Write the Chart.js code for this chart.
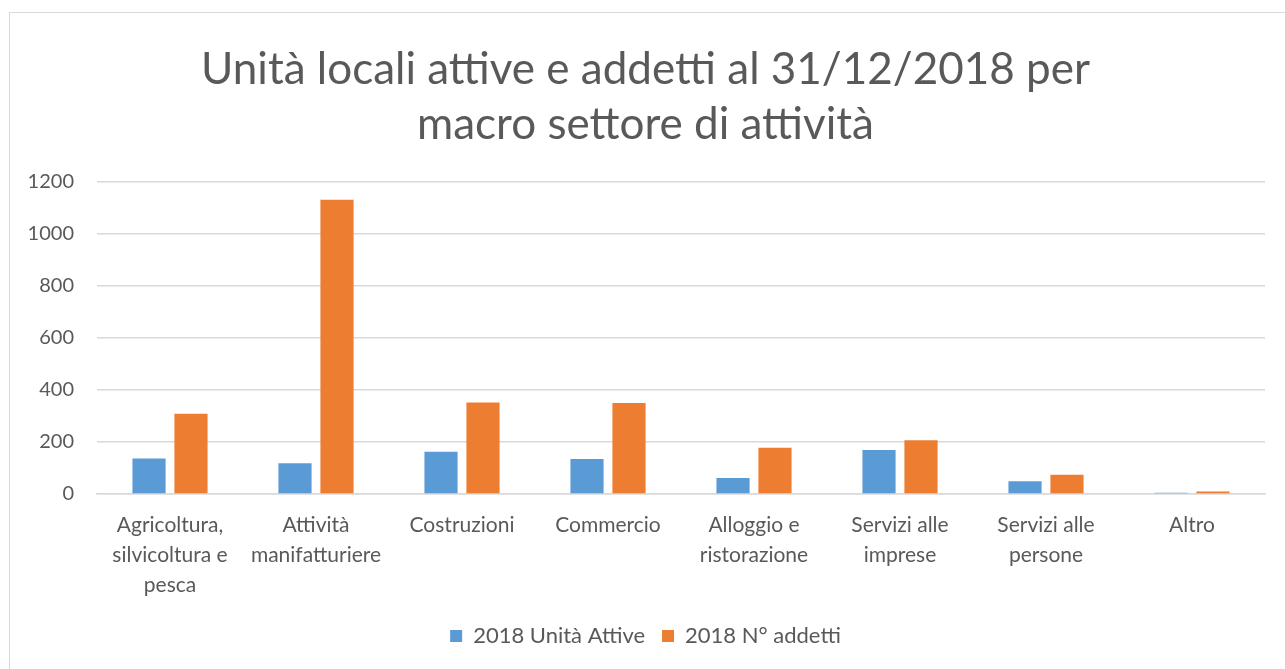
<!DOCTYPE html>
<html>
<head>
<meta charset="utf-8">
<script src="https://cdn.jsdelivr.net/npm/chart.js@4"></script>
<style>
  body { margin: 0; background: #fff; }
  #wrap { position: relative; width: 1285px; height: 669px; overflow: hidden; }
  #frame { position: absolute; left: 9px; top: 12px; width: 1290px; height: 670px; border: 1.5px solid #d9d9d9; pointer-events: none; }
</style>
</head>
<body>
<div id="wrap">
  <canvas id="chart" width="1285" height="669"></canvas>
  <div id="frame"></div>
</div>
<script>
// Data
const categories = [
    ['Agricoltura,', 'silvicoltura e', 'pesca'],
    ['Attività', 'manifatturiere'],
    'Costruzioni',
    'Commercio',
    ['Alloggio e', 'ristorazione'],
    ['Servizi alle', 'imprese'],
    ['Servizi alle', 'persone'],
    'Altro'
];
const unitaAttive = [136, 118, 162, 134, 61, 169, 49, 4];
const addetti = [308, 1132, 352, 350, 178, 206, 74, 9];
const seriesNames = ['2018 Unità Attive', '2018 N° addetti'];
const titleLines = ['Unità locali attive e addetti al 31/12/2018 per', 'macro settore di attività'];

const fontFamily = 'Lato, "Open Sans", sans-serif';
const textColor = '#595959';

Chart.defaults.font.family = fontFamily;
Chart.defaults.color = textColor;

new Chart(document.getElementById('chart').getContext('2d'), {
    type: 'bar',
    data: {
        labels: categories,
        datasets: [
            {
                label: seriesNames[0],
                data: unitaAttive,
                backgroundColor: '#5b9bd5'
            },
            {
                label: seriesNames[1],
                data: addetti,
                backgroundColor: '#ed7d31'
            }
        ]
    },
    options: {
        responsive: false,
        animation: false,
        categoryPercentage: 0.575,
        barPercentage: 0.79,
        layout: {
            padding: { left: 26, right: 20, top: 42, bottom: 12 }
        },
        plugins: {
            title: {
                display: true,
                text: titleLines,
                color: textColor,
                font: { size: 44, weight: 'normal', lineHeight: 1.25 },
                padding: { top: 0, bottom: 30 }
            },
            legend: {
                position: 'bottom',
                labels: {
                    boxWidth: 12,
                    boxHeight: 12,
                    padding: 17,
                    color: textColor,
                    font: { size: 22 }
                }
            },
            tooltip: { enabled: false }
        },
        scales: {
            x: {
                grid: { display: false },
                border: { display: true, color: '#d9d9d9', width: 1.5 },
                ticks: {
                    color: textColor,
                    font: { size: 21, lineHeight: 1.43 },
                    maxRotation: 0,
                    autoSkip: false,
                    padding: 8
                }
            },
            y: {
                min: 0,
                max: 1200,
                afterFit: scale => { scale.width = 71; },
                ticks: {
                    stepSize: 200,
                    color: textColor,
                    font: { size: 20 },
                    padding: 23,
                    callback: v => String(v)
                },
                grid: { color: '#d9d9d9', lineWidth: 1.5, drawTicks: false },
                border: { display: false }
            }
        }
    }
});
</script>
</body>
</html>
